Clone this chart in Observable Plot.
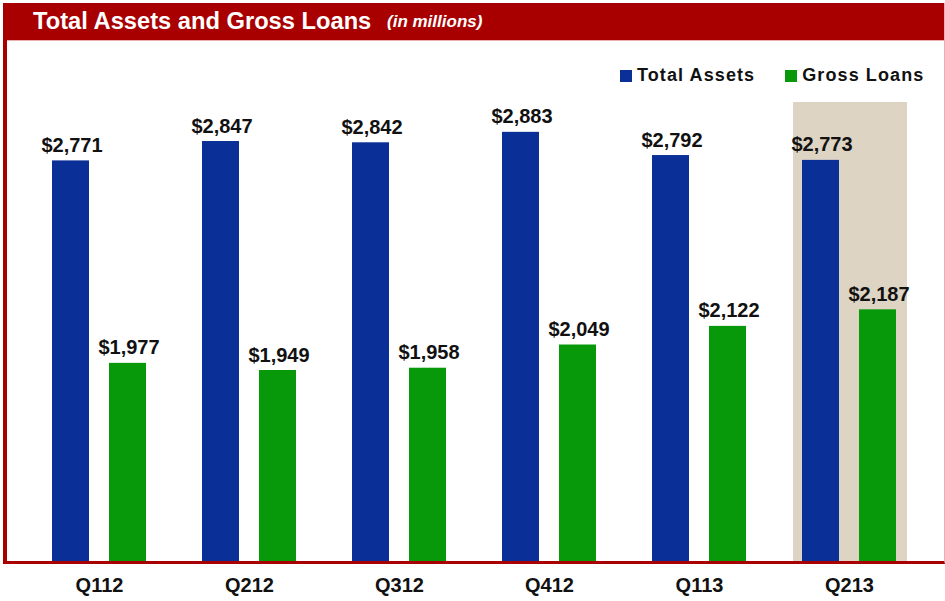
<!DOCTYPE html>
<html><head><meta charset="utf-8">
<script src="https://cdn.jsdelivr.net/npm/d3@7"></script>
<script src="https://cdn.jsdelivr.net/npm/@observablehq/plot@0.6"></script>
<style>
body{margin:0;background:#fff;}
#page{position:relative;width:945px;height:601px;overflow:hidden;font-family:"Liberation Sans",Arial,sans-serif;}
#titlebar{position:absolute;left:3px;top:3px;width:942px;height:38px;background:#A80000;border-bottom:1px solid #E9B0B0;box-sizing:border-box;color:#fff;white-space:nowrap;line-height:37px;}
#titlebar .main{position:absolute;left:30px;top:0;font-size:23.7px;font-weight:bold;}
#titlebar .sub{position:absolute;left:384px;top:0;font-size:17px;font-weight:bold;font-style:italic;}
#frame{position:absolute;left:3px;top:3px;width:942px;height:561px;box-sizing:border-box;border-left:4px solid #A80000;border-bottom:3px solid #A80000;border-right:1px solid #E9B0B0;z-index:3;pointer-events:none;}
#chart{position:absolute;left:0;top:41px;z-index:1;}
#legend{position:absolute;left:620px;top:65px;z-index:2;display:flex;align-items:center;font-size:18px;font-weight:bold;letter-spacing:1.1px;color:#111;}
#legend .item{display:flex;align-items:center;}
#legend .sw{width:12px;height:12px;margin-right:5px;}
</style>
</head><body>
<div id="page">
  <div id="chart"></div>
  <div id="titlebar"><span class="main">Total Assets and Gross Loans</span><span class="sub">(in millions)</span></div>
  <div id="legend"></div>
  <div id="frame"></div>
</div>
<script>
const quarters = ["Q112", "Q212", "Q312", "Q412", "Q113", "Q213"];
const totalAssets = [2771, 2847, 2842, 2883, 2792, 2773];
const grossLoans = [1977, 1949, 1958, 2049, 2122, 2187];
const seriesNames = ["Total Assets", "Gross Loans"];
const seriesColors = ["#0A2F96", "#07990A"];
const highlightQuarter = "Q213";
const yDomain = [1200, 3000];

const rows = quarters.flatMap((q, i) => [
  {q, series: seriesNames[0], value: totalAssets[i]},
  {q, series: seriesNames[1], value: grossLoans[i]}
]);

const fmt = d3.format(",");

const plot = Plot.plot({
  width: 945,
  height: 560,
  marginLeft: 24,
  marginRight: 21,
  marginTop: 61,
  marginBottom: 40,
  fx: {domain: quarters, padding: 0, label: null, axis: "bottom", tickSize: 0, tickPadding: 16},
  x: {domain: seriesNames, paddingInner: 0.35, paddingOuter: 0.49, axis: null},
  y: {domain: yDomain, axis: null},
  color: {domain: seriesNames, range: seriesColors},
  style: {fontFamily: "'Liberation Sans', Arial, sans-serif", fontSize: "20px", fontWeight: "bold", color: "#111", background: "transparent", overflow: "visible"},
  marks: [
    Plot.barY([highlightQuarter], {fx: d => d, y1: yDomain[0], y2: yDomain[1], fill: "#DDD4C3", insetLeft: 19, insetRight: 17}),
    Plot.barY(rows, {fx: "q", x: "series", y1: yDomain[0], y2: "value", fill: "series"}),
    Plot.text(rows, {fx: "q", x: "series", y: "value", text: d => "$" + fmt(d.value), lineAnchor: "bottom", dy: -9, dx: 1, fill: "#111", fontSize: 20, fontWeight: "bold"})
  ]
});
document.getElementById("chart").appendChild(plot);

const color = plot.scale("color");
const legend = document.getElementById("legend");
seriesNames.forEach((name, i) => {
  const item = document.createElement("div");
  item.className = "item";
  item.style.marginRight = i === 0 ? "30px" : "0";
  const sw = document.createElement("div");
  sw.className = "sw";
  sw.style.background = color.apply(name);
  const label = document.createElement("span");
  label.textContent = name;
  item.appendChild(sw);
  item.appendChild(label);
  legend.appendChild(item);
});
</script>
</body></html>
